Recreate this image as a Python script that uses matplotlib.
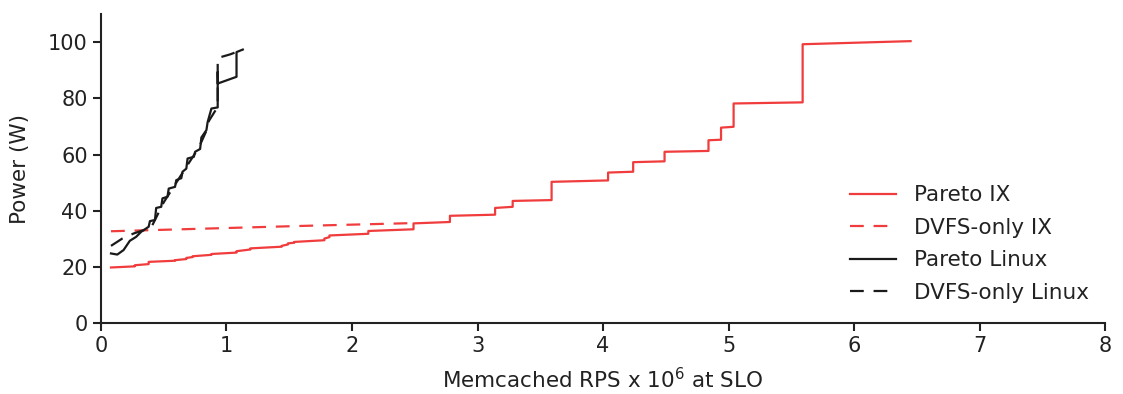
import matplotlib
matplotlib.use("Agg")
from matplotlib import pyplot as plt

# Pareto IX (RPS x 10^6, Power W)
ix_pareto_x = [0.08, 0.27, 0.27, 0.38, 0.38, 0.59, 0.59, 0.68, 0.68, 0.73, 0.73, 0.88, 0.88,
               1.08, 1.08, 1.19, 1.19, 1.44, 1.44, 1.49, 1.49, 1.54, 1.54, 1.78, 1.78, 1.82, 1.82,
               2.13, 2.13, 2.49, 2.49, 2.78, 2.78, 3.14, 3.14, 3.28, 3.28, 3.59, 3.59, 4.04, 4.04,
               4.24, 4.24, 4.49, 4.49, 4.84, 4.84, 4.94, 4.94, 5.04, 5.04, 5.59, 5.59, 6.45]
ix_pareto_y = [19.8, 20.2, 20.6, 21.0, 21.8, 22.2, 22.4, 22.8, 23.2, 23.5, 23.8, 24.3, 24.6,
               25.1, 25.6, 26.2, 26.6, 27.2, 27.5, 28.0, 28.4, 28.6, 28.9, 29.5, 30.1, 30.6, 31.2,
               31.8, 32.8, 33.4, 35.5, 36.0, 38.2, 38.6, 41.0, 41.4, 43.5, 43.8, 50.3, 50.8, 53.6,
               53.9, 57.3, 57.6, 61.0, 61.3, 65.1, 65.3, 69.6, 69.9, 78.2, 78.6, 99.3, 100.4]

# DVFS-only IX
ix_dvfs_x = [0.08, 0.8, 1.6, 2.48]
ix_dvfs_y = [32.7, 33.6, 34.6, 35.6]

# Pareto Linux
lx_pareto_x = [0.08, 0.13, 0.18, 0.23, 0.28, 0.32, 0.38, 0.39, 0.43, 0.44, 0.48, 0.49, 0.53,
               0.54, 0.59, 0.6, 0.64, 0.65, 0.68, 0.69, 0.74, 0.75, 0.79, 0.8, 0.84, 0.85,
               0.88, 0.93, 0.93, 0.93, 1.08, 1.08, 1.13]
lx_pareto_y = [24.8, 24.4, 26.0, 29.3, 30.7, 32.5, 34.3, 36.3, 36.7, 41.0, 41.4, 44.4, 45.0,
               47.9, 48.5, 50.9, 51.6, 53.9, 55.0, 58.6, 59.2, 61.0, 62.0, 66.1, 68.7, 71.6,
               76.4, 76.8, 89.4, 85.3, 87.7, 96.5, 97.4]

# DVFS-only Linux
lx_dvfs_x = [0.08, 0.17, 0.26, 0.40, 0.50, 0.60, 0.70, 0.78, 0.84, 0.86, 0.93, 0.93, 1.03, 1.13]
lx_dvfs_y = [27.5, 30.1, 31.9, 34.0, 43.0, 50.0, 57.0, 62.5, 68.5, 72.0, 77.0, 94.4, 95.7, 97.4]

red = '#f03c3c'
dark = '#1a1a1a'
txt = '#222222'
dash = (0, (6.2, 4.4))

fig = plt.figure(figsize=(11.23, 3.94), dpi=100)
ax = fig.add_axes([0.0899, 0.180, 0.8942, 0.784])

ax.plot(ix_pareto_x, ix_pareto_y, color=red, lw=1.6, label='Pareto IX')
ax.plot(ix_dvfs_x, ix_dvfs_y, color=red, lw=1.6, ls=dash, label='DVFS-only IX')
ax.plot(lx_pareto_x, lx_pareto_y, color=dark, lw=1.6, label='Pareto Linux')
ax.plot(lx_dvfs_x, lx_dvfs_y, color=dark, lw=1.6, ls=dash, label='DVFS-only Linux')

ax.set_xlim(0, 8)
ax.set_ylim(0, 110)
ax.set_xticks(range(0, 9))
ax.set_yticks(range(0, 101, 20))
ax.set_xlabel('Memcached RPS x $10^6$ at SLO', fontsize=15.5, color=txt, labelpad=8)
ax.set_ylabel('Power (W)', fontsize=15.5, color=txt, labelpad=13)
ax.tick_params(axis='both', labelsize=15, length=6, width=1.5, colors=txt)

for s in ['top', 'right']:
    ax.spines[s].set_visible(False)
for s in ['left', 'bottom']:
    ax.spines[s].set_linewidth(1.5)
    ax.spines[s].set_color(txt)

leg = ax.legend(loc='center left', bbox_to_anchor=(0.740, 0.381), bbox_transform=fig.transFigure,
                frameon=False, fontsize=15.5, handlelength=2.1, handletextpad=0.84,
                labelspacing=0.58)
for t in leg.get_texts():
    t.set_color(txt)

fig.savefig('out.png', dpi=100)
